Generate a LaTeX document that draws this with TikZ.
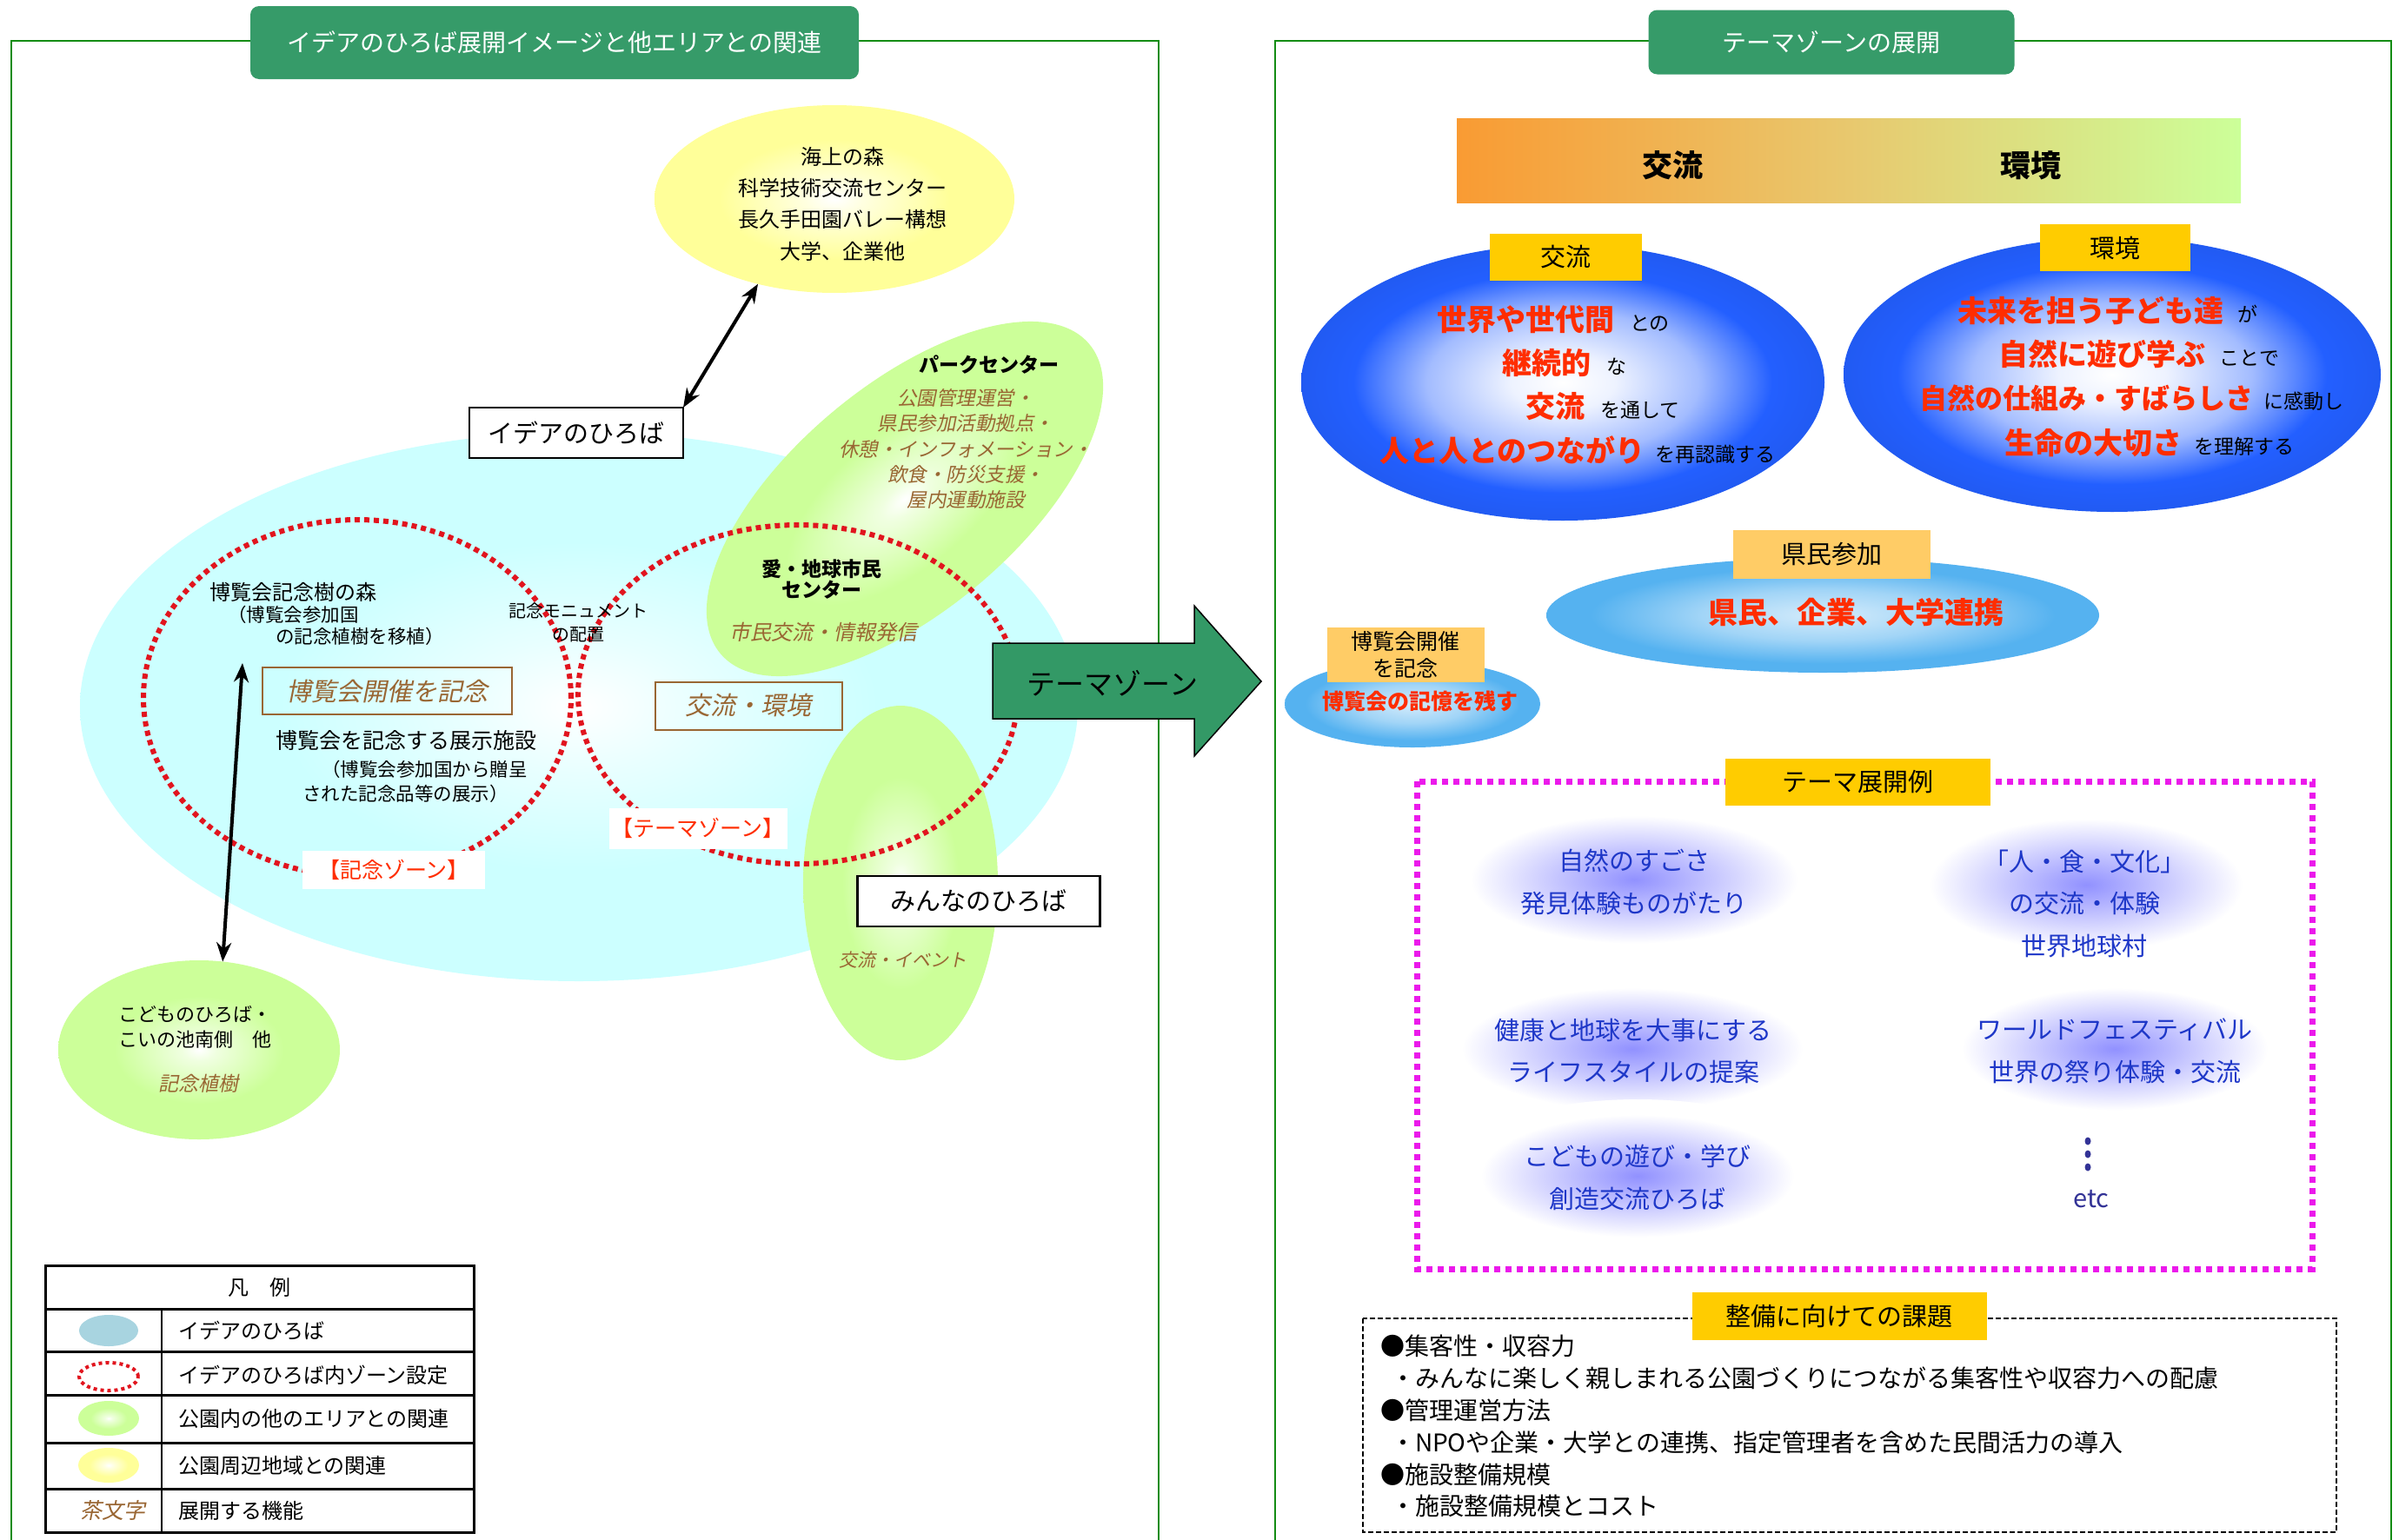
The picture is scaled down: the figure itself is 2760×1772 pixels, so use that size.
\documentclass[tikz,border=0pt]{standalone}
\usepackage{fontspec}
\setmainfont{Noto Sans CJK JP}
\newfontfamily\jpsl[FakeSlant=0.2]{Noto Sans CJK JP}
\usetikzlibrary{shapes.geometric,arrows.meta}

\definecolor{titleg}{RGB}{54,155,105}
\definecolor{panelg}{RGB}{20,140,20}
\definecolor{brownc}{RGB}{153,102,51}
\definecolor{redc}{RGB}{255,45,0}
\definecolor{dotred}{RGB}{225,20,30}
\definecolor{cyanc}{RGB}{204,255,255}
\definecolor{grnc}{RGB}{204,255,153}
\definecolor{yelc}{RGB}{255,255,153}
\definecolor{bluec}{RGB}{35,95,255}
\definecolor{skyc}{RGB}{85,178,240}
\definecolor{lavc}{RGB}{145,145,255}
\definecolor{goldc}{RGB}{255,204,0}
\definecolor{peachc}{RGB}{255,204,102}
\definecolor{orgc}{RGB}{249,155,51}
\definecolor{midc}{RGB}{232,200,110}
\definecolor{lgc}{RGB}{204,255,153}
\definecolor{itemc}{RGB}{30,55,200}
\definecolor{navyc}{RGB}{50,50,150}
\definecolor{magc}{RGB}{235,25,235}
\definecolor{legblue}{RGB}{168,212,224}
\definecolor{arrowg}{RGB}{51,153,102}

\pgfdeclareradialshading{cyanball}{\pgfpoint{0bp}{0bp}}{color(0bp)=(white); color(6bp)=(white!55!cyanc); color(15bp)=(cyanc); color(25bp)=(cyanc); color(50bp)=(cyanc)}
\pgfdeclareradialshading{greenball}{\pgfpoint{0bp}{0bp}}{color(0bp)=(white); color(3bp)=(white!70!grnc); color(15bp)=(grnc); color(25bp)=(grnc); color(50bp)=(grnc)}
\pgfdeclareradialshading{yellowball}{\pgfpoint{0bp}{0bp}}{color(0bp)=(white); color(4bp)=(white!70!yelc); color(16bp)=(yelc); color(25bp)=(yelc); color(50bp)=(yelc)}
\pgfdeclareradialshading{blueball}{\pgfpoint{0bp}{0bp}}{color(0bp)=(white); color(5bp)=(white!92!bluec); color(13bp)=(bluec!42!white); color(20bp)=(bluec); color(25bp)=(bluec!95!black); color(50bp)=(bluec!95!black)}
\pgfdeclareradialshading{skyball}{\pgfpoint{0bp}{0bp}}{color(0bp)=(white!75!skyc); color(11bp)=(skyc!55!white); color(21bp)=(skyc); color(25bp)=(skyc); color(50bp)=(skyc)}
\pgfdeclareradialshading{glowball}{\pgfpoint{0bp}{0bp}}{color(0bp)=(lavc); color(9bp)=(lavc!55!white); color(20bp)=(white); color(25bp)=(white); color(50bp)=(white)}

\newcommand\fzz[2]{\fontsize{#1}{#2}\selectfont}
\newcommand\redbig[1]{{\color{redc}\bfseries\fzz{34}{40}#1}}
\newcommand\blksm[1]{{\color{black}\fzz{23}{28}#1}}

\begin{document}
\begin{tikzpicture}[x=1pt,y=-1pt,
  every node/.style={inner sep=0pt, outer sep=0pt},
  panel/.style={draw=panelg, line width=2pt},
  titlebox/.style={fill=titleg, rounded corners=10pt, text=white, font=\fzz{28}{34}},
  wbox/.style={draw=black, line width=2.5pt, fill=white, font=\fzz{29}{35}},
  brbox/.style={draw=brownc, line width=2pt, text=brownc, font=\jpsl\fzz{29}{35}},
  brtext/.style={text=brownc, font=\jpsl\fzz{22.5}{29.3}, align=center},
  redzone/.style={draw=dotred, line width=6pt, dash pattern=on 6pt off 5pt},
  goldlab/.style={fill=goldc, font=\fzz{29}{35}},
  peachlab/.style={fill=peachc, font=\fzz{29}{35}},
  dbl/.style={{Stealth[length=22pt,width=17pt]}-{Stealth[length=22pt,width=17pt]}, line width=4pt},
  zonelab/.style={fill=white, text=redc, font=\fzz{25}{30}},
  item/.style={text=itemc, font=\fzz{29}{48.5}, align=center},
  legline/.style={draw=black, line width=3pt}
]
\useasboundingbox (0,0) rectangle (2760,1772);
\fill[white] (0,0) rectangle (2760,1772);

%================ LEFT PANEL ================
\draw[panel] (13,1772) -- (13,47) -- (1333,47) -- (1333,1772);
\node[titlebox, minimum width=700pt, minimum height=84pt] (ltitle) at (638,49) {イデアのひろば展開イメージと他エリアとの関連};

% big cyan area
\node[ellipse, shade, shading=cyanball, minimum width=1148pt, minimum height=632pt] (idea area) at (666,813) {};
% park center (rotated)
\begin{scope}[transform canvas={shift={(1041,574)}, rotate=40}]
  \shade[shading=greenball] (0,0) ellipse [x radius=277, y radius=130];
\end{scope}
% minna green
\node[ellipse, shade, shading=greenball, minimum width=224pt, minimum height=408pt] (minna area) at (1036,1016) {};
% yellow sea
\node[ellipse, shade, shading=yellowball, minimum width=414pt, minimum height=216pt] (sea) at (960,229) {};
% kodomo green
\node[ellipse, shade, shading=greenball, minimum width=324pt, minimum height=206pt] (kodomo) at (229,1208) {};

% red dotted zones
\node[ellipse, redzone, minimum width=492pt, minimum height=410pt] (kinenzone) at (411,803) {};
\node[ellipse, redzone, minimum width=506pt, minimum height=390pt] (themezone) at (918,799) {};

% sea text
\node[font=\fzz{24}{36.3}, align=center] (seatext) at (969,234.5) {海上の森\\科学技術交流センター\\長久手田園バレー構想\\大学、企業他};

% idea box
\node[wbox, minimum width=246pt, minimum height=58pt] (idea) at (663,498) {イデアのひろば};
\draw[dbl] (sea.-132) -- (idea.north east);

% park center text
\node[font=\bfseries\fzz{23}{28}] (park) at (1138,420) {パークセンター};
\node[brtext] (parkfn) at (1111,516.5) {公園管理運営・\\県民参加活動拠点・\\休憩・インフォメーション・\\飲食・防災支援・\\屋内運動施設};

% ai chikyu
\node[font=\bfseries\fzz{23}{24}, align=center] (aichi) at (945,666.5) {愛・地球市民\\センター};
\node[brtext, font=\jpsl\fzz{24}{29}] (aichifn) at (947,727) {市民交流・情報発信};

% kinen zone texts
\node[anchor=west, font=\fzz{24}{28}] (forest) at (241,681) {博覧会記念樹の森};
\node[anchor=west, font=\fzz{21.5}{26}] (forest2) at (262,707) {（博覧会参加国};
\node[anchor=west, font=\fzz{21.5}{26}] (forest3) at (317,732) {の記念植樹を移植）};
\node[font=\fzz{20}{27}, align=center] (monument) at (665,716.5) {記念モニュメント\\の配置};
\node[brbox, minimum width=287pt, minimum height=54pt] (kinenbox) at (445,795) {博覧会開催を記念};
\node[anchor=west, font=\fzz{25}{30}] (exhibit1) at (317,852) {博覧会を記念する展示施設};
\node[anchor=west, font=\fzz{21.5}{26}] (exhibit2) at (370,885) {（博覧会参加国から贈呈};
\node[anchor=west, font=\fzz{21.5}{26}] (exhibit3) at (348,913) {された記念品等の展示）};
\node[zonelab, minimum width=210pt, minimum height=44pt] (kinenlab) at (453,1001) {【記念ゾーン】};

% theme zone texts
\node[brbox, minimum width=215pt, minimum height=55pt] (kankyobox) at (861,812) {交流・環境};
\node[zonelab, minimum width=205pt, minimum height=47pt] (themelab) at (803,953) {【テーマゾーン】};

% minna
\node[wbox, minimum width=279pt, minimum height=58pt] (minna) at (1126,1037) {みんなのひろば};
\node[brtext, font=\jpsl\fzz{21}{26}] (minnafn) at (1039,1105) {交流・イベント};

% kodomo
\node[font=\fzz{22}{29}, align=center] (kodomotext) at (224,1181.5) {こどものひろば・\\こいの池南側　他};
\node[brtext, font=\jpsl\fzz{23}{28}] (kodomofn) at (228,1247) {記念植樹};

\coordinate (kinentop) at (279,763);
\draw[dbl] (kinentop) -- (kodomo.75);

% theme zone arrow
\draw[fill=arrowg, draw=black, line width=1.5pt] (1142,740) -- (1374,740) -- (1374,697) -- (1451,784) -- (1374,870) -- (1374,827) -- (1142,827) -- cycle;
\node[font=\fzz{33}{40}] (themearrow) at (1280,786) {テーマゾーン};

% legend
\draw[legline] (52,1456) rectangle (545,1763);
\foreach \yy in {1506,1555,1605,1660,1713} {\draw[legline] (52,\yy) -- (545,\yy);}
\draw[draw=black, line width=2.5pt] (186,1506) -- (186,1763);
\node[font=\fzz{24}{28}] (leghead) at (298,1481) {凡　例};
\node[ellipse, fill=legblue, minimum width=68pt, minimum height=36pt] (legi1) at (125,1531) {};
\node[ellipse, draw=dotred, line width=4pt, dash pattern=on 4pt off 4pt, minimum width=68pt, minimum height=32pt] (legi2) at (125,1584) {};
\node[ellipse, shade, shading=greenball, minimum width=70pt, minimum height=40pt] (legi3) at (125,1632) {};
\node[ellipse, shade, shading=yellowball, minimum width=70pt, minimum height=40pt] (legi4) at (125,1686) {};
\node[text=brownc, font=\jpsl\fzz{25}{30}] (legi5) at (130,1738) {茶文字};
\node[anchor=west, font=\fzz{24}{28}] (legt1) at (205,1531) {イデアのひろば};
\node[anchor=west, font=\fzz{24}{28}] (legt2) at (205,1582) {イデアのひろば内ゾーン設定};
\node[anchor=west, font=\fzz{24}{28}] (legt3) at (205,1632) {公園内の他のエリアとの関連};
\node[anchor=west, font=\fzz{24}{28}] (legt4) at (205,1686) {公園周辺地域との関連};
\node[anchor=west, font=\fzz{24}{28}] (legt5) at (205,1738) {展開する機能};

%================ RIGHT PANEL ================
\draw[panel] (1467,1772) -- (1467,47) -- (2751,47) -- (2751,1772);
\node[titlebox, minimum width=421pt, minimum height=74pt] (rtitle) at (2107,48.5) {テーマゾーンの展開};

% gradient bar
\node[shade, left color=orgc, right color=lgc, middle color=midc, minimum width=902pt, minimum height=97pt] (bar) at (2127,184.5) {};
\node[font=\bfseries\fzz{35}{40}] (barkoryu) at (1924,190) {交流};
\node[font=\bfseries\fzz{35}{40}] (barkankyo) at (2336,190) {環境};

% blue balls
\node[ellipse, shade, shading=blueball, minimum width=602pt, minimum height=318pt] (koryuball) at (1798,440) {};
\node[ellipse, shade, shading=blueball, minimum width=618pt, minimum height=316pt] (kankyoball) at (2430,431) {};
\node[goldlab, minimum width=175pt, minimum height=54pt] (koryulab) at (1801,296) {交流};
\node[goldlab, minimum width=173pt, minimum height=54pt] (kankyolab) at (2433,285) {環境};

\node (k1) at (1787,368) {\redbig{世界や世代間}\hspace{18pt}\blksm{との}};
\node (k2) at (1800,418) {\redbig{継続的}\hspace{18pt}\blksm{な}};
\node (k3) at (1844,468) {\redbig{交流}\hspace{18pt}\blksm{を通して}};
\node (k4) at (1815,518) {\redbig{人と人とのつながり}\hspace{12pt}\blksm{を再認識する}};

\node (e1) at (2425,358) {\redbig{未来を担う子ども達}\hspace{16pt}\blksm{が}};
\node (e2) at (2461,407) {\redbig{自然に遊び学ぶ}\hspace{16pt}\blksm{ことで}};
\node (e3) at (2452,458) {{\color{redc}\bfseries\fzz{32}{40}自然の仕組み・すばらしさ}\hspace{12pt}\blksm{に感動し}};
\node (e4) at (2473,510) {\redbig{生命の大切さ}\hspace{14pt}\blksm{を理解する}};

% kenmin
\node[ellipse, shade, shading=skyball, minimum width=636pt, minimum height=132pt] (kenminball) at (2097,708) {};
\node[peachlab, minimum width=227pt, minimum height=56pt] (kenminlab) at (2107,638) {県民参加};
\node[font=\bfseries\fzz{34}{40}, text=redc] (kenmintext) at (2135,705) {県民、企業、大学連携};

% expo small
\node[ellipse, shade, shading=skyball, minimum width=294pt, minimum height=100pt] (expoball) at (1625,810) {};
\node[peachlab, minimum width=181pt, minimum height=63pt, font=\fzz{25}{31}, align=center] (expolab) at (1617,753) {博覧会開催\\を記念};
\node[font=\bfseries\fzz{25}{30}, text=redc] (expotext) at (1634,807) {博覧会の記憶を残す};

% theme examples: glows first, then dotted frame
\shade[shading=glowball] (1880,1012) ellipse (235 and 92);
\shade[shading=glowball] (2400,1018) ellipse (225 and 95);
\shade[shading=glowball] (1878,1207) ellipse (245 and 88);
\shade[shading=glowball] (2433,1207) ellipse (220 and 88);
\shade[shading=glowball] (1884,1353) ellipse (225 and 88);
\draw[draw=magc, line width=7pt, dash pattern=on 7pt off 6pt] (1630,899) rectangle (2660,1460);
\node[goldlab, minimum width=305pt, minimum height=54pt] (reilab) at (2137,900) {テーマ展開例};

\node[item] (t1) at (1880,1015) {自然のすごさ\\発見体験ものがたり};
\node[item] (t2) at (2398,1039.5) {「人・食・文化」\\の交流・体験\\世界地球村};
\node[item] (t3) at (1879,1209.5) {健康と地球を大事にする\\ライフスタイルの提案};
\node[item] (t4) at (2433,1209.5) {ワールドフェスティバル\\世界の祭り体験・交流};
\node[item] (t5) at (1884,1355) {こどもの遊び・学び\\創造交流ひろば};
\fill[navyc] (2402,1313) ellipse (3.5 and 4.5);
\fill[navyc] (2402,1328) ellipse (3.5 and 4.5);
\fill[navyc] (2402,1343) ellipse (3.5 and 4.5);
\node[text=navyc, font=\fzz{29}{34}] (tetc) at (2406,1380) {etc};

% issues
\draw[draw=black, line width=2pt, dash pattern=on 6pt off 3pt] (1568,1517) rectangle (2688,1763);
\node[goldlab, minimum width=339pt, minimum height=55pt] (issuelab) at (2116,1514) {整備に向けての課題};
\node[anchor=west, font=\fzz{28}{34}] (i1) at (1588,1549) {●集客性・収容力};
\node[anchor=west, font=\fzz{28}{34}] (i2) at (1600,1586) {・みんなに楽しく親しまれる公園づくりにつながる集客性や収容力への配慮};
\node[anchor=west, font=\fzz{28}{34}] (i3) at (1588,1623) {●管理運営方法};
\node[anchor=west, font=\fzz{28}{34}] (i4) at (1600,1660) {・NPOや企業・大学との連携、指定管理者を含めた民間活力の導入};
\node[anchor=west, font=\fzz{28}{34}] (i5) at (1588,1697) {●施設整備規模};
\node[anchor=west, font=\fzz{28}{34}] (i6) at (1600,1733) {・施設整備規模とコスト};
\end{tikzpicture}
\end{document}
